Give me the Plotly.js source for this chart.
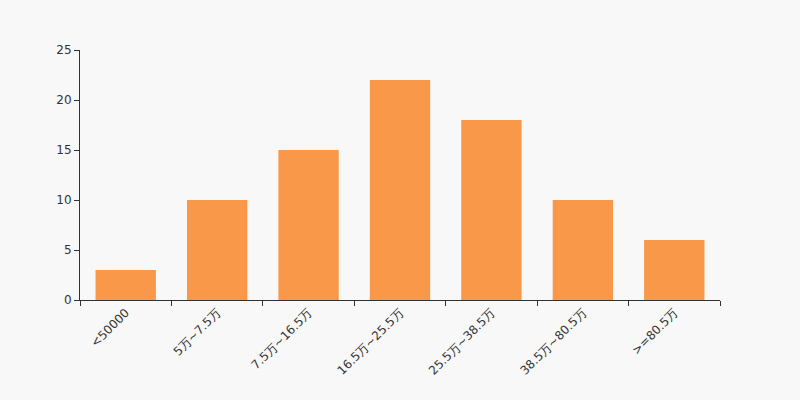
<!DOCTYPE html>
<html><head><meta charset="utf-8">
<script src="https://cdn.plot.ly/plotly-3.0.1.min.js"></script>
<style>html,body{margin:0;padding:0;background:#f8f8f8;}</style>
</head><body>
<div id="chart" style="width:800px;height:400px;"></div>
<script>
const categories = ["<50000", "5万~7.5万", "7.5万~16.5万", "16.5万~25.5万", "25.5万~38.5万", "38.5万~80.5万", ">=80.5万"];
const values = [3, 10, 15, 22, 18, 10, 6];

Plotly.newPlot("chart", [{
  type: "bar",
  x: categories,
  y: values,
  marker: {color: "#f89848", line: {width: 0}},
  hoverinfo: "x+y"
}], {
  width: 800, height: 400,
  paper_bgcolor: "#f8f8f8",
  plot_bgcolor: "#f8f8f8",
  margin: {l: 80, r: 80, t: 50, b: 100},
  bargap: 0.34,
  font: {family: "DejaVu Sans, sans-serif", size: 12, color: "#333"},
  showlegend: false,
  xaxis: {
    type: "category",
    tickangle: -45,
    showline: true, linecolor: "#333", linewidth: 1,
    ticks: "outside", ticklen: 5, tickcolor: "#333",
    tickson: "boundaries",
    showgrid: false, zeroline: false,
    tickfont: {size: 12, color: "#333"}
  },
  yaxis: {
    range: [0, 25], dtick: 5,
    showline: true, linecolor: "#333", linewidth: 1,
    ticks: "outside", ticklen: 5, tickcolor: "#333",
    showgrid: false, zeroline: false,
    tickfont: {size: 12, color: "#333"}
  }
}, {displayModeBar: false, staticPlot: true});
</script>
</body></html>
